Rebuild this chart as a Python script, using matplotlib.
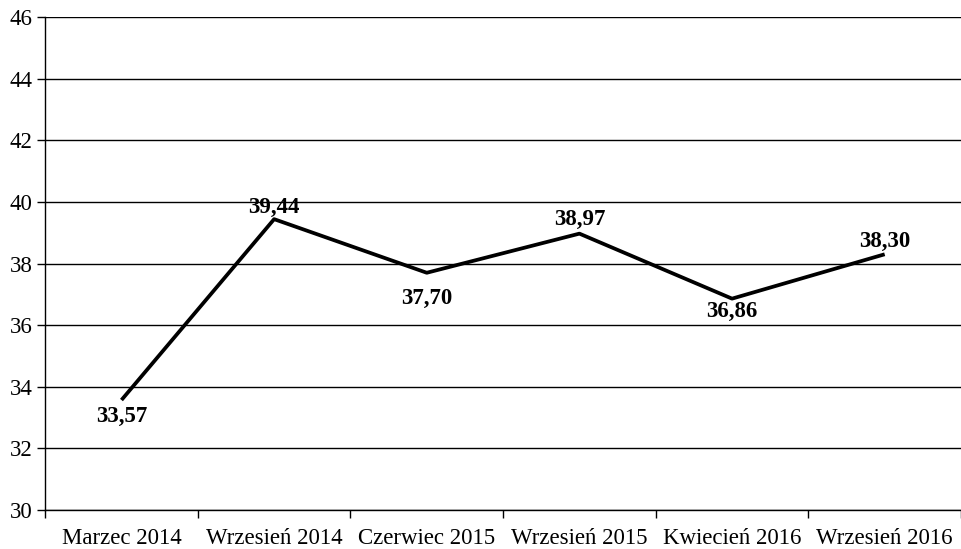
import matplotlib.pyplot as plt
import numpy as np

okresy = ["Marzec 2014", "Wrzesień 2014", "Czerwiec 2015", "Wrzesień 2015", "Kwiecień 2016", "Wrzesień 2016"]
wartosci = [33.57, 39.44, 37.70, 38.97, 36.86, 38.30]
etykiety = ["33,57", "39,44", "37,70", "38,97", "36,86", "38,30"]
# przesuniecie etykiet w pikselach (gora/dol)
przesuniecia = [-16, 12, -26, 14, -13, 13]

plt.rcParams['font.family'] = ['Liberation Serif', 'DejaVu Serif']

fig = plt.figure(figsize=(9.61, 5.49), dpi=100)
ax = fig.add_axes([0.047, 0.071, 0.953, 0.898])

x = np.arange(len(okresy))
ax.plot(x, wartosci, color='black', linewidth=2.7, solid_capstyle='butt')

for xi, v, lab, dy in zip(x, wartosci, etykiety, przesuniecia):
    ax.annotate(lab, (xi, v), xytext=(0, dy), textcoords='offset pixels',
                ha='center', va='center', fontsize=16.5, fontweight='bold')

ax.set_xlim(-0.5, len(okresy) - 0.5)
ax.set_ylim(30, 46)
ax.set_yticks(np.arange(30, 47, 2))
ax.yaxis.grid(True, color='black', linewidth=1)
ax.set_axisbelow(True)

ax.set_xticks(x)
ax.set_xticklabels(okresy, fontsize=16.5)
ax.set_xticks(np.arange(-0.5, len(okresy), 1), minor=True)
ax.tick_params(axis='x', which='major', length=0, pad=13)
ax.tick_params(axis='x', which='minor', length=6, width=1, direction='out')
ax.tick_params(axis='y', length=6, width=1, labelsize=16.5, pad=3)

for s in ['top', 'right']:
    ax.spines[s].set_visible(False)
for s in ['left', 'bottom']:
    ax.spines[s].set_linewidth(1)

fig.savefig('out.png', dpi=100)
